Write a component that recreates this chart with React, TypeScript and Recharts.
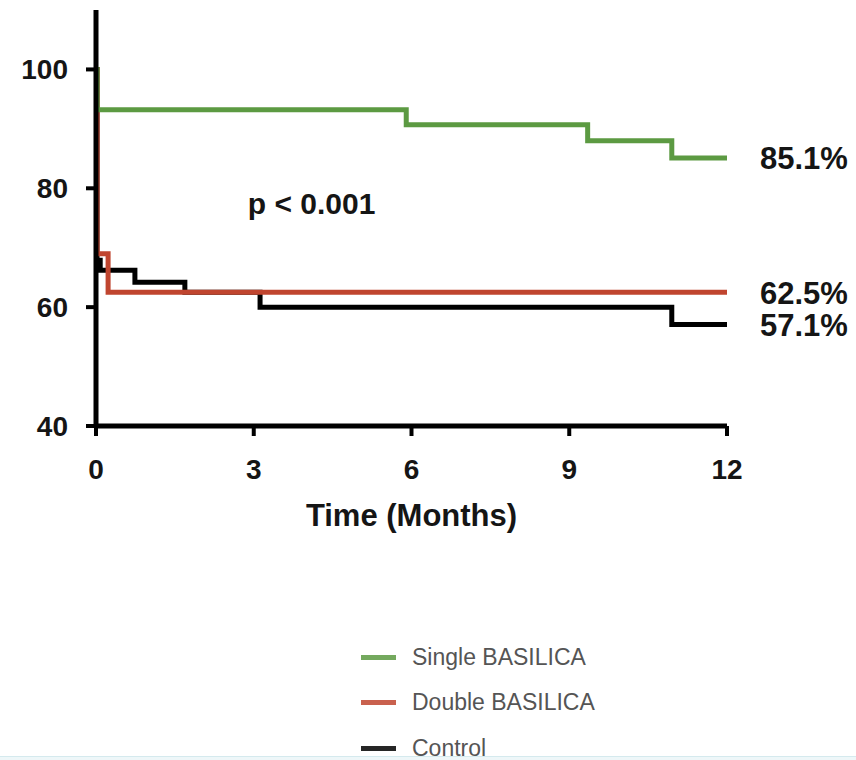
import { LineChart, Line, XAxis, YAxis, Label, ReferenceDot } from 'recharts';

// Kaplan-Meier style step curves
const singleTime = [0, 0.02, 5.9, 9.35, 10.95, 12];
const singleSurv = [100, 93.2, 90.7, 88.0, 85.1, 85.1];

const doubleTime = [0, 0.02, 0.23, 12];
const doubleSurv = [100, 69.0, 62.5, 62.5];

const controlTime = [0, 0.02, 0.08, 0.74, 1.69, 3.12, 10.95, 12];
const controlSurv = [100, 67.9, 66.2, 64.2, 62.5, 60.0, 57.1, 57.1];

const endLabels = ['85.1%', '62.5%', '57.1%'];
const xTicks = [0, 3, 6, 9, 12];
const yTicks = [40, 60, 80, 100];

const toPoints = (ts: number[], ss: number[]) => ts.map((t, i) => ({ t, s: ss[i] }));

const SERIES = [
  { name: 'Control', data: toPoints(controlTime, controlSurv), color: '#000000', end: endLabels[2] },
  { name: 'Double BASILICA', data: toPoints(doubleTime, doubleSurv), color: '#c0452f', end: endLabels[1] },
  { name: 'Single BASILICA', data: toPoints(singleTime, singleSurv), color: '#5c9a42', end: endLabels[0] },
];
const LEGEND_ORDER = ['Single BASILICA', 'Double BASILICA', 'Control'];

const FONT = "'Liberation Sans', Arial, sans-serif";

function endLabel(text: string, last: number) {
  return (props: any) => {
    if (props.index !== last) return null;
    return (
      <text
        x={props.x + 33}
        y={props.y + 1}
        dominantBaseline="central"
        fontFamily={FONT}
        fontWeight="bold"
        fontSize={31}
        fill="#151515"
      >
        {text}
      </text>
    );
  };
}

export default function App() {
  return (
    <div style={{ position: 'absolute', left: 0, top: 0, width: 856, height: 760, background: '#fff', overflow: 'hidden' }}>
      <LineChart
        width={856}
        height={760}
        margin={{ top: 10, right: 129, left: 36, bottom: 224 }}
      >
        <XAxis
          type="number"
          dataKey="t"
          domain={[0, 12]}
          ticks={xTicks}
          allowDataOverflow
          height={110}
          axisLine={{ stroke: '#000', strokeWidth: 5 }}
          tickLine={{ stroke: '#000', strokeWidth: 4 }}
          tickSize={10}
          tickMargin={23}
          tick={{ fill: '#151515', fontSize: 28, fontWeight: 'bold', fontFamily: FONT }}
        >
          <Label
            value="Time (Months)"
            position="insideBottom"
            offset={10}
            style={{ fill: '#151515', fontSize: 31, fontWeight: 'bold', fontFamily: FONT }}
          />
        </XAxis>
        <YAxis
          type="number"
          dataKey="s"
          domain={[40, 110]}
          ticks={yTicks}
          allowDataOverflow
          width={60}
          axisLine={{ stroke: '#000', strokeWidth: 5 }}
          tickLine={{ stroke: '#000', strokeWidth: 4 }}
          tickSize={10}
          tickMargin={18}
          tick={{ fill: '#151515', fontSize: 28, fontWeight: 'bold', fontFamily: FONT }}
        />
        {SERIES.map((s) => (
          <Line
            key={s.name}
            data={s.data}
            dataKey="s"
            type="stepAfter"
            stroke={s.color}
            strokeWidth={5}
            dot={false}
            isAnimationActive={false}
            strokeLinejoin="miter"
            label={endLabel(s.end, s.data.length - 1)}
          />
        ))}
        <ReferenceDot
          x={4.1}
          y={77.5}
          r={0}
          fill="none"
          stroke="none"
          label={{ value: 'p < 0.001', position: 'center', fill: '#151515', fontSize: 30, fontWeight: 'bold', fontFamily: FONT }}
        />
      </LineChart>

      {/* Legend */}
      <div style={{ position: 'absolute', left: 361, top: 642, display: 'flex', flexDirection: 'column', gap: 15.5 }}>
        {LEGEND_ORDER.map((name) => {
          const s = SERIES.find((x) => x.name === name)!;
          return (
            <div key={name} style={{ display: 'flex', alignItems: 'center', height: 30 }}>
              <div style={{ width: 35, height: 5, background: s.color, opacity: 0.85, marginRight: 16 }} />
              <span style={{ fontFamily: FONT, fontSize: 23, color: '#555' }}>{name}</span>
            </div>
          );
        })}
      </div>

      <div style={{ position: 'absolute', left: 0, top: 756, width: 856, height: 4, background: '#eef7f9', borderTop: '1px solid #d5eaee' }} />
    </div>
  );
}
